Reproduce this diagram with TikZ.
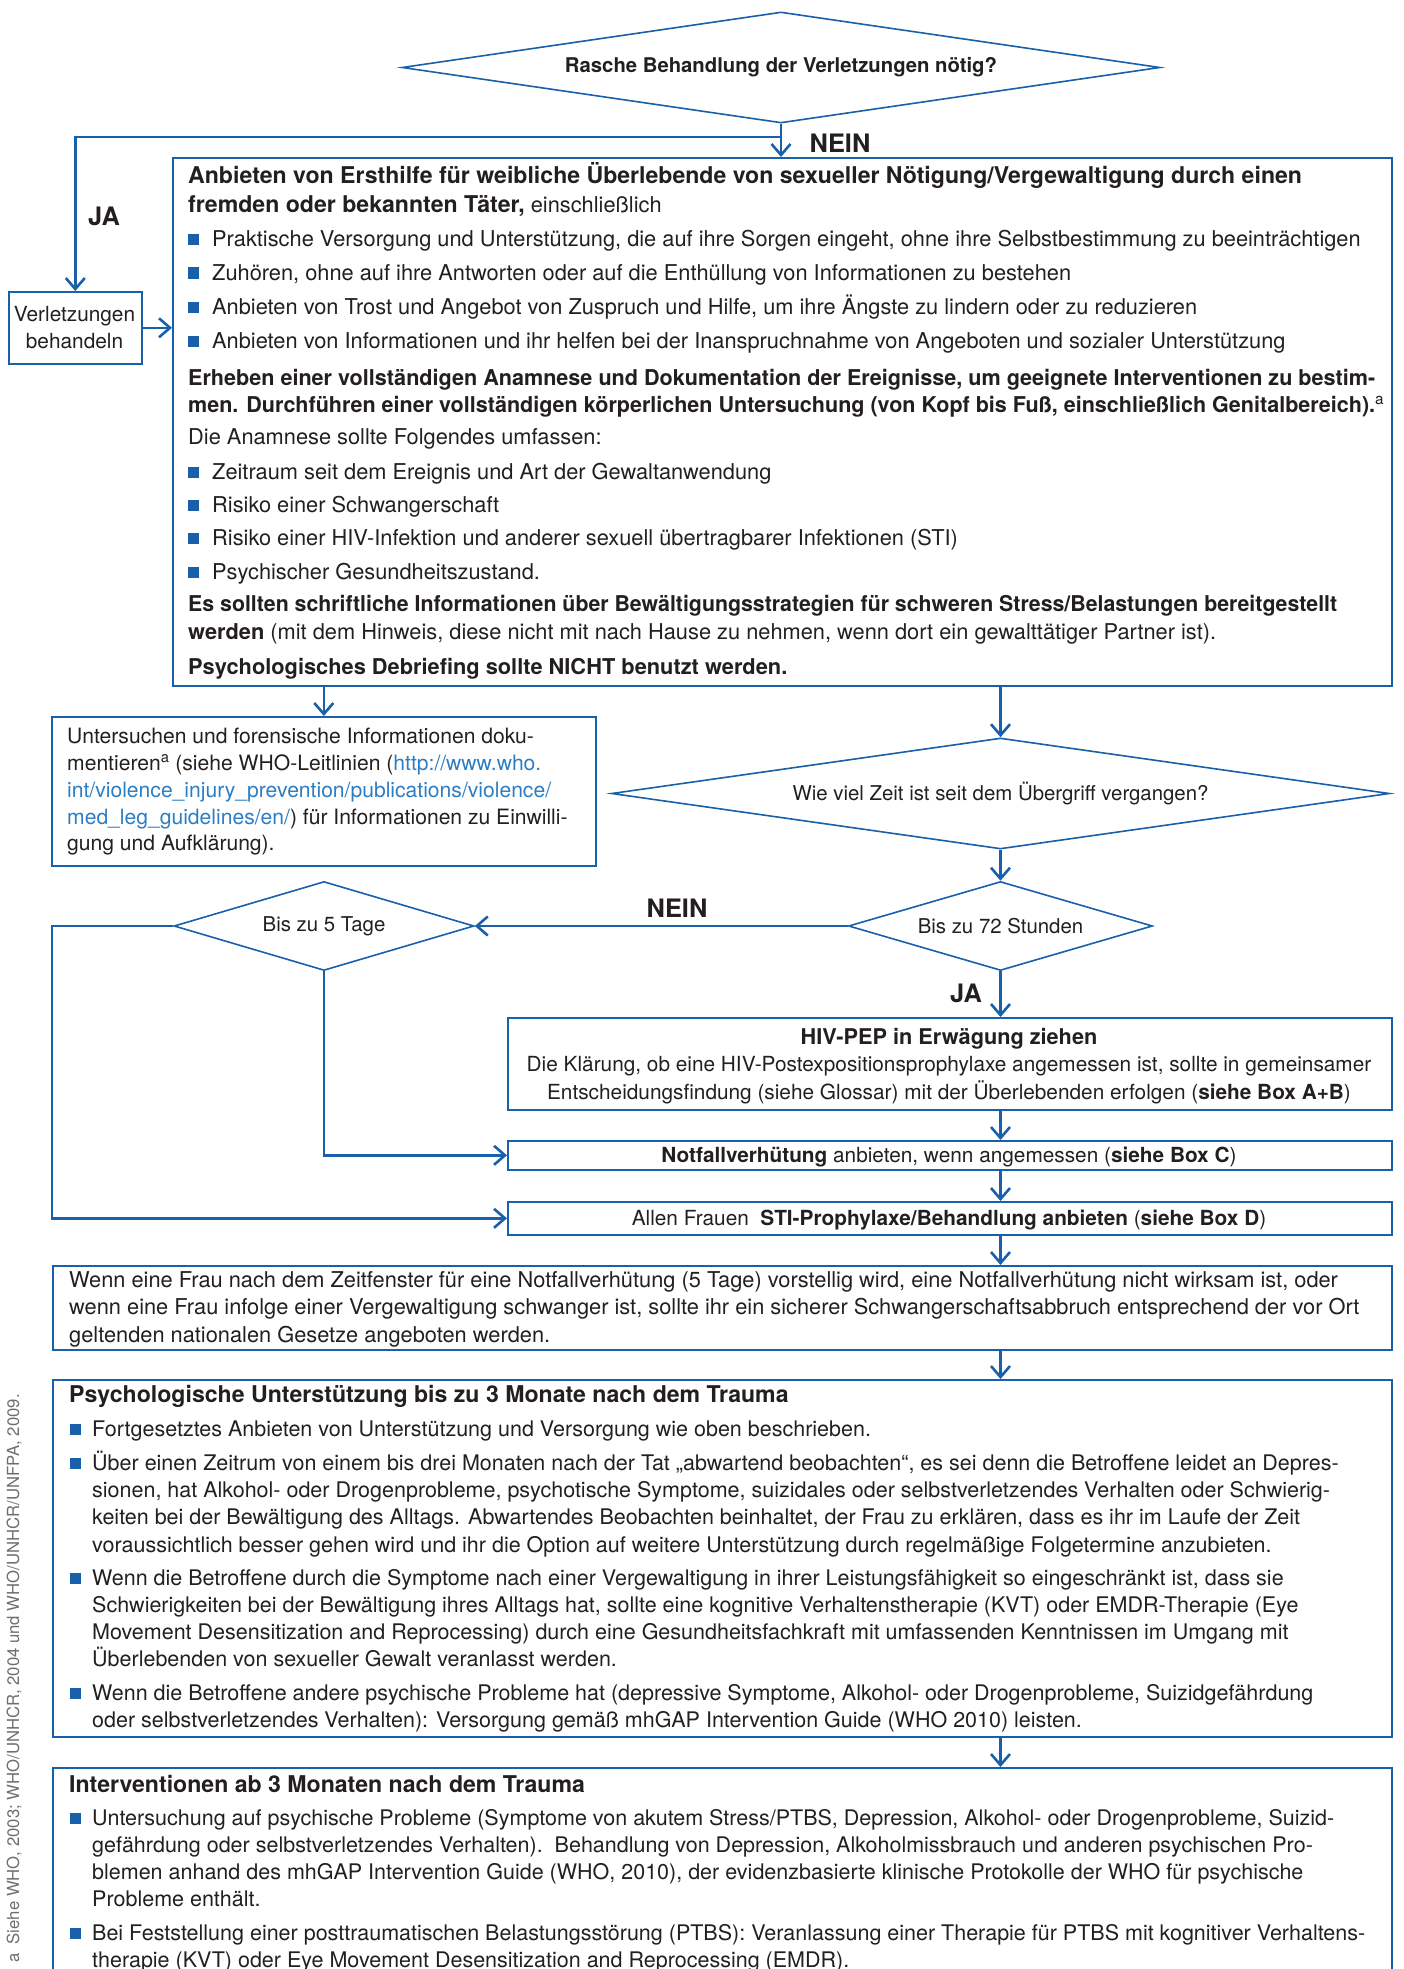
\documentclass[tikz,border=0pt]{standalone}
\usepackage{fontspec}
\usepackage{graphicx}
\setmainfont{TeX Gyre Heros}
\usetikzlibrary{arrows.meta,shapes.geometric,calc}
\definecolor{bl}{RGB}{25,96,170}
\definecolor{tc}{RGB}{35,31,32}
\definecolor{urlc}{RGB}{45,125,195}
\definecolor{fnc}{RGB}{110,110,110}
\newcommand\fM{\fontsize{21.8}{26}\selectfont}
\newcommand\fP{\fontsize{21.5}{26}\selectfont}
\newcommand\fF{\fontsize{21.1}{26}\selectfont}
\newcommand\fS{\fontsize{20.8}{26}\selectfont}
\newcommand\fD{\fontsize{20.4}{26}\selectfont}
\newcommand\fT{\fontsize{23.1}{28}\selectfont}
\newcommand\fL{\fontsize{25.4}{30}\selectfont}
\newcommand\bsq[2]{\fill[bl] (#1,#2-12.5) rectangle (#1+11,#2-1.5);}
\newcommand\fitto[2]{\resizebox{#1pt}{\height}{#2}}
\begin{document}
\begin{tikzpicture}[x=1pt,y=-1pt,
  box/.style={draw=bl,line width=1.6pt,inner sep=0pt,anchor=north west},
  dia/.style={diamond,draw=bl,line width=1.6pt,inner sep=0pt,text=tc},
  conn/.style={draw=bl,line width=2.6pt},
  arr/.style={-{Straight Barb[length=11pt,width=19pt]}},
  tx/.style={anchor=base west,inner sep=0pt,text=tc,font=\fM},
  txp/.style={anchor=base west,inner sep=0pt,text=tc,font=\fP},
  txf/.style={anchor=base west,inner sep=0pt,text=tc,font=\fF},
  txs/.style={anchor=base,inner sep=0pt,text=tc,font=\fS},
  lab/.style={inner sep=0pt,text=tc,font=\fL\bfseries}]
\useasboundingbox (0,0) rectangle (1403,1969);

% ---------- top decision ----------
\node[dia,shape aspect=6.83,minimum width=758pt,minimum height=111pt] (d1) at (781,67.5)
  {\fontsize{20.3}{24}\selectfont\bfseries Rasche Behandlung der Verletzungen nötig?};
\node[box,minimum width=1219pt,minimum height=528pt] (main) at (172,157) {};
\node[box,minimum width=133pt,minimum height=72pt] (verl) at (8,291) {};
\node[txs] (verl1) at (74.5,321) {Verletzungen};
\node[txs] (verl2) at (74.5,348) {behandeln};
\coordinate (split) at (781,137);
\draw[conn,arr] (d1.south) -- (d1.south |- main.north);
\draw[conn,arr] (d1.south |- split) -| (verl.north);
\draw[conn,arr] (verl.east) -- (verl.east -| main.west);
\node[lab] (nein1) at (840,143) {NEIN};
\node[lab] (ja1) at (104,216) {JA};

% ---------- main box text ----------
\node[tx] (m1) at (188,184) {\fT\bfseries Anbieten von Ersthilfe für weibliche Überlebende von sexueller Nötigung/Vergewaltigung durch einen};
\node[tx] (m2) at (188,213) {{\fT\bfseries fremden oder bekannten Täter,} einschließlich};
\bsq{188}{247}\node[tx] (mb1) at (212,247) {Praktische Versorgung und Unterstützung, die auf ihre Sorgen eingeht, ohne ihre Selbstbestimmung zu beeinträchtigen};
\bsq{188}{280}\node[tx] (mb2) at (212,280) {Zuhören, ohne auf ihre Antworten oder auf die Enthüllung von Informationen zu bestehen};
\bsq{188}{314}\node[tx] (mb3) at (212,314) {Anbieten von Trost und Angebot von Zuspruch und Hilfe, um ihre Ängste zu lindern oder zu reduzieren};
\bsq{188}{348}\node[tx] (mb4) at (212,348) {Anbieten von Informationen und ihr helfen bei der Inanspruchnahme von Angeboten und sozialer Unterstützung};
\node[tx] (m3) at (188,385) {\fitto{1187}{\bfseries Erheben einer vollständigen Anamnese und Dokumentation der Ereignisse, um geeignete Interventionen zu bestim-}};
\node[tx] (m4) at (188,412) {\fitto{1187}{\bfseries men. Durchführen einer vollständigen körperlichen Untersuchung (von Kopf bis Fuß, einschließlich Genitalbereich).}\textsuperscript{a}};
\node[tx] (m5) at (188,444) {Die Anamnese sollte Folgendes umfassen:};
\bsq{188}{479}\node[tx] (mb5) at (212,479) {Zeitraum seit dem Ereignis und Art der Gewaltanwendung};
\bsq{188}{512}\node[tx] (mb6) at (212,512) {Risiko einer Schwangerschaft};
\bsq{188}{545}\node[tx] (mb7) at (212,545) {Risiko einer HIV-Infektion und anderer sexuell übertragbarer Infektionen (STI)};
\bsq{188}{579}\node[tx] (mb8) at (212,579) {Psychischer Gesundheitszustand.};
\node[tx] (m6) at (188,611) {\fitto{1149}{\bfseries Es sollten schriftliche Informationen über Bewältigungsstrategien für schweren Stress/Belastungen bereitgestellt}};
\node[tx] (m7) at (188,639) {\textbf{werden} (mit dem Hinweis, diese nicht mit nach Hause zu nehmen, wenn dort ein gewalttätiger Partner ist).};
\node[tx] (m8) at (188,674) {\bfseries Psychologisches Debriefing sollte NICHT benutzt werden.};

% ---------- forensic box ----------
\node[box,minimum width=544pt,minimum height=149pt] (fore) at (51,716) {};
\draw[conn,arr] (main.south -| fore.north) -- (fore.north);
\node[txf] (f1) at (67,743) {Untersuchen und forensische Informationen doku-};
\node[txf] (f2) at (67,770) {mentieren\textsuperscript{a} (siehe WHO-Leitlinien (\textcolor{urlc}{http://www.who.}};
\node[txf] (f3) at (67,797) {\textcolor{urlc}{int/violence\_injury\_prevention/publications/violence/}};
\node[txf] (f4) at (67,824) {\textcolor{urlc}{med\_leg\_guidelines/en/}) für Informationen zu Einwilli-};
\node[txf] (f5) at (67,850) {gung und Aufklärung).};

% ---------- time decisions ----------
\coordinate (col) at (1000.5,0);
\node[dia,shape aspect=7,minimum width=778pt,minimum height=111pt] (d2) at (1000.5,793.5)
  {\fD Wie viel Zeit ist seit dem Übergriff vergangen?};
\draw[conn,arr] (main.south -| d2.north) -- (d2.north);
\node[dia,shape aspect=3.4,minimum width=304pt,minimum height=89pt] (d3) at (1000.5,926) {\fD Bis zu 72 Stunden};
\draw[conn,arr] (d2.south) -- (d3.north);
\node[dia,shape aspect=3.37,minimum width=300pt,minimum height=89pt] (d4) at (324,926) {\fD Bis zu 5 Tage};
\draw[conn,arr] (d3.west) -- (d4.east);
\node[lab] (nein2) at (677,908) {NEIN};

% ---------- HIV / Notfall / STI ----------
\node[box,minimum width=884pt,minimum height=92pt] (hiv) at (507,1017) {};
\draw[conn,arr] (d3.south) -- (d3.south |- hiv.north);
\node[lab] (ja2) at (966,993) {JA};
\node[txs] (h1) at (949,1044) {\fontsize{21.7}{26}\selectfont\bfseries HIV-PEP in Erwägung ziehen};
\node[txs] (h2) at (949,1071) {Die Klärung, ob eine HIV-Postexpositionsprophylaxe angemessen ist, sollte in gemeinsamer};
\node[txs] (h3) at (949,1099) {Entscheidungsfindung (siehe Glossar) mit der Überlebenden erfolgen (\textbf{siehe Box A+B})};

\node[box,minimum width=884pt,minimum height=29pt] (notf) at (507,1140) {};
\node[txs] (n1) at (949,1162) {\textbf{Notfallverhütung} anbieten, wenn angemessen (\textbf{siehe Box C})};
\draw[conn,arr] (hiv.south -| col) -- (notf.north -| col);

\node[box,minimum width=884pt,minimum height=33pt] (sti) at (507,1201) {};
\node[txs] (s1) at (949,1225) {Allen Frauen\ \ \textbf{STI-Prophylaxe/Behandlung anbieten} (\textbf{siehe Box D})};
\draw[conn,arr] (notf.south -| col) -- (sti.north -| col);

\coordinate (lx) at (52,0);
\draw[conn,arr] (d4.west) -- (d4.west -| lx) -- (lx |- sti.west) -- (sti.west);
\draw[conn,arr] (d4.south) -- (d4.south |- notf.west) -- (notf.west);

% ---------- abortion box ----------
\node[box,minimum width=1339pt,minimum height=84pt] (abort) at (52,1265) {};
\draw[conn,arr] (sti.south -| col) -- (abort.north -| col);
\node[tx] (a1) at (69,1287) {Wenn eine Frau nach dem Zeitfenster für eine Notfallverhütung (5 Tage) vorstellig wird, eine Notfallverhütung nicht wirksam ist, oder};
\node[tx] (a2) at (69,1314) {wenn eine Frau infolge einer Vergewaltigung schwanger ist, sollte ihr ein sicherer Schwangerschaftsabbruch entsprechend der vor Ort};
\node[tx] (a3) at (69,1342) {geltenden nationalen Gesetze angeboten werden.};

% ---------- psychological support ----------
\node[box,minimum width=1339pt,minimum height=357pt] (psy) at (52,1379) {};
\draw[conn,arr] (abort.south -| col) -- (psy.north -| col);
\node[txp] (p0) at (69,1402) {\fT\bfseries Psychologische Unterstützung bis zu 3 Monate nach dem Trauma};
\bsq{70}{1436}\node[txp] (p1) at (92,1436) {Fortgesetztes Anbieten von Unterstützung und Versorgung wie oben beschrieben.};
\bsq{70}{1470}\node[txp] (p2a) at (92,1470) {Über einen Zeitrum von einem bis drei Monaten nach der Tat „abwartend beobachten“, es sei denn die Betroffene leidet an Depres-};
\node[txp] (p2b) at (92,1497) {sionen, hat Alkohol- oder Drogenprobleme, psychotische Symptome, suizidales oder selbstverletzendes Verhalten oder Schwierig-};
\node[txp] (p2c) at (92,1524) {keiten bei der Bewältigung des Alltags. Abwartendes Beobachten beinhaltet, der Frau zu erklären, dass es ihr im Laufe der Zeit};
\node[txp] (p2d) at (92,1552) {voraussichtlich besser gehen wird und ihr die Option auf weitere Unterstützung durch regelmäßige Folgetermine anzubieten.};
\bsq{70}{1585}\node[txp] (p3a) at (92,1585) {Wenn die Betroffene durch die Symptome nach einer Vergewaltigung in ihrer Leistungsfähigkeit so eingeschränkt ist, dass sie};
\node[txp] (p3b) at (92,1612) {Schwierigkeiten bei der Bewältigung ihres Alltags hat, sollte eine kognitive Verhaltenstherapie (KVT) oder EMDR-Therapie (Eye};
\node[txp] (p3c) at (92,1639) {Movement Desensitization and Reprocessing) durch eine Gesundheitsfachkraft mit umfassenden Kenntnissen im Umgang mit};
\node[txp] (p3d) at (92,1666) {Überlebenden von sexueller Gewalt veranlasst werden.};
\bsq{70}{1700}\node[txp] (p4a) at (92,1700) {Wenn die Betroffene andere psychische Probleme hat (depressive Symptome, Alkohol- oder Drogenprobleme, Suizidgefährdung};
\node[txp] (p4b) at (92,1727) {oder selbstverletzendes Verhalten): Versorgung gemäß mhGAP Intervention Guide (WHO 2010) leisten.};

% ---------- interventions after 3 months ----------
\node[box,minimum width=1339pt,minimum height=210pt] (intv) at (52,1767) {};
\draw[conn,arr] (psy.south -| col) -- (intv.north -| col);
\node[txp] (i0) at (69,1792) {\fT\bfseries Interventionen ab 3 Monaten nach dem Trauma};
\bsq{70}{1825}\node[txp] (i1a) at (92,1825) {Untersuchung auf psychische Probleme (Symptome von akutem Stress/PTBS, Depression, Alkohol- oder Drogenprobleme, Suizid-};
\node[txp] (i1b) at (92,1852) {gefährdung oder selbstverletzendes Verhalten).\ \ Behandlung von Depression, Alkoholmissbrauch und anderen psychischen Pro-};
\node[txp] (i1c) at (92,1879) {blemen anhand des mhGAP Intervention Guide (WHO, 2010), der evidenzbasierte klinische Protokolle der WHO für psychische};
\node[txp] (i1d) at (92,1906) {Probleme enthält.};
\bsq{70}{1940}\node[txp] (i2a) at (92,1940) {Bei Feststellung einer posttraumatischen Belastungsstörung (PTBS): Veranlassung einer Therapie für PTBS mit kognitiver Verhaltens-};
\node[txp] (i2b) at (92,1967) {therapie (KVT) oder Eye Movement Desensitization and Reprocessing (EMDR).};

% ---------- side footnote ----------
\node[anchor=base west,inner sep=0pt,rotate=90,text=fnc,font=\fontsize{16.7}{20}\selectfont] (foot) at (19,1963)
  {a\ \ Siehe WHO, 2003; WHO/UNHCR, 2004 und WHO/UNHCR/UNFPA, 2009.};
\end{tikzpicture}
\end{document}
